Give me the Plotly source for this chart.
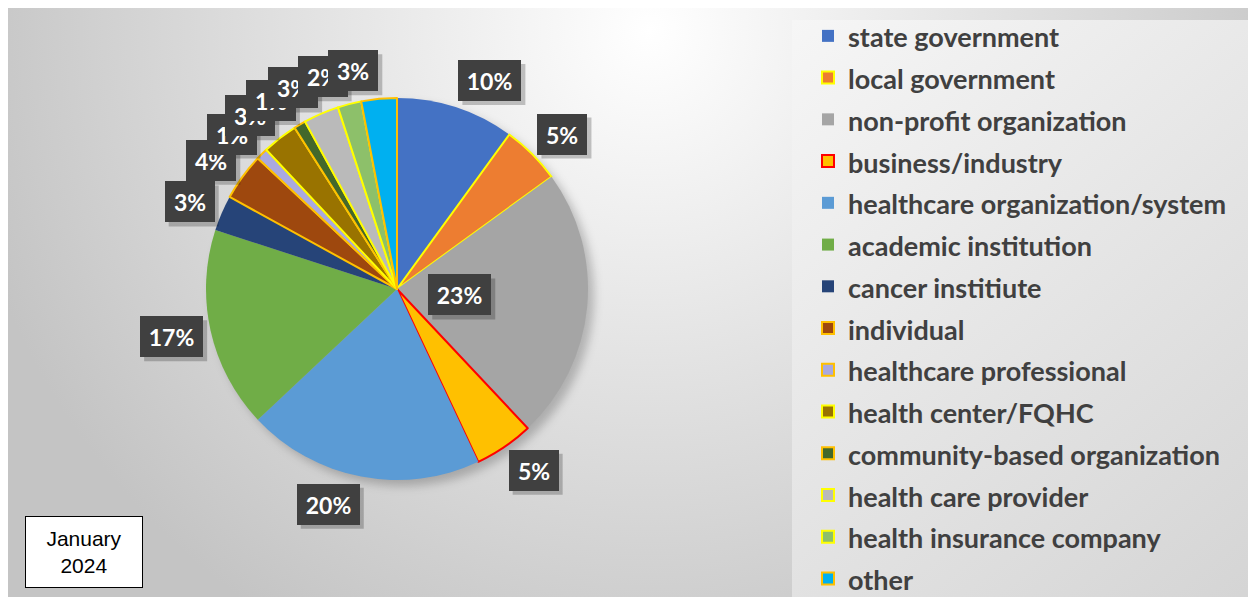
import base64
import math
import plotly.graph_objects as go

# ---------------- data ----------------
categories = [
    "state government", "local government", "non-profit organization",
    "business/industry", "healthcare organization/system", "academic institution",
    "cancer institiute", "individual", "healthcare professional",
    "health center/FQHC", "community-based organization", "health care provider",
    "health insurance company", "other",
]
percent_values = [10, 5, 23, 5, 20, 17, 3, 4, 1, 3, 1, 3, 2, 3]
period_label = ["January", "2024"]

# ---------------- styling ----------------
slice_colors = [
    "#4472C4", "#ED7D31", "#A5A5A5", "#FFC000", "#5B9BD5", "#70AD47", "#264478",
    "#9E480E", "#A9A9DF", "#997300", "#43682B", "#BABABA", "#8DC06A", "#00B0F0",
]
border_colors = [
    "#4472C4", "#FFFF00", "#A5A5A5", "#FF0000", "#5B9BD5", "#70AD47", "#264478",
    "#FFC000", "#FFC000", "#FFFF00", "#FFC000", "#FFFF00", "#FFFF00", "#FFC000",
]
border_widths = [0, 2, 0, 2, 0, 0, 0, 2, 2, 2, 2, 2, 2, 2]
inside_label_index = 2  # the 23% label sits inside the pie

W, H = 1256, 597
CX, CY, R = 389, 281, 191  # pie centre / radius in figure pixels

dom_x = [(CX - R) / W, (CX + R) / W]
dom_y = [(H - CY - R) / H, (H - CY + R) / H]

# ---------------- background (gradient via svg image) ----------------
svg = f'''<svg xmlns="http://www.w3.org/2000/svg" width="{W}" height="{H}" viewBox="0 0 {W} {H}" preserveAspectRatio="none">
<defs>
<radialGradient id="g1" gradientUnits="userSpaceOnUse" cx="642" cy="22" r="700">
<stop offset="0" stop-color="#ffffff"/><stop offset="1" stop-color="#c4c4c4"/>
</radialGradient>
<linearGradient id="g2" gradientUnits="userSpaceOnUse" x1="784" y1="12" x2="1256" y2="597">
<stop offset="0" stop-color="#f6f6f6"/><stop offset="1" stop-color="#d4d4d4"/>
</linearGradient>
<filter id="bl" x="-20%" y="-20%" width="140%" height="140%"><feGaussianBlur stdDeviation="5"/></filter>
</defs>
<rect x="0" y="0" width="{W}" height="{H}" fill="url(#g1)"/>
<circle cx="{CX+6}" cy="{CY+6}" r="{R}" fill="#000000" fill-opacity="0.22" filter="url(#bl)"/>
<rect x="784" y="12" width="{W-784}" height="{H-12}" fill="url(#g2)"/>
</svg>'''
bg_uri = "data:image/svg+xml;base64," + base64.b64encode(svg.encode()).decode()

legend_labels = [f'<span style="font-size:27px"><b>{c}</b></span>' for c in categories]

fig = go.Figure()
fig.add_trace(go.Pie(
    labels=legend_labels,
    values=percent_values,
    sort=False,
    direction="clockwise",
    rotation=0,
    textinfo="none",
    hoverinfo="skip",
    domain=dict(x=dom_x, y=dom_y),
    marker=dict(colors=slice_colors, line=dict(color=border_colors, width=border_widths)),
    showlegend=True,
))

# ---------------- data labels ----------------
annotations = []
shapes = []
total = sum(percent_values)
cum = 0.0
BOX_H = 25
PAD = 8
for i, v in enumerate(percent_values):
    mid = (cum + v / 2) / total * 2 * math.pi
    cum += v
    s, c = math.sin(mid), math.cos(mid)
    txt = f"{v}%"
    bw = 13 * len(txt) + 8
    if i == inside_label_index:
        r = 0.33 * R
        xa, ysh = "center", 0
        x0, x1 = -(bw / 2 + PAD), bw / 2 + PAD
    else:
        r = 1.04 * R
        xa = "left" if s >= 0 else "right"
        ysh = c * 20.5
        if s >= 0:
            x0, x1 = 0, bw + 2 * PAD
        else:
            x0, x1 = -(bw + 2 * PAD), 0
    px = CX + r * s
    py = CY - r * c
    xp, yp = px / W, 1 - py / H
    half = BOX_H / 2 + PAD
    shapes.append(dict(
        type="rect", xref="paper", yref="paper", xsizemode="pixel", ysizemode="pixel",
        xanchor=xp, yanchor=yp, x0=x0 + 4, x1=x1 + 4, y0=ysh - half - 4, y1=ysh + half - 4,
        fillcolor="rgba(0,0,0,0.22)", line=dict(width=0), layer="above",
    ))
    annotations.append(dict(
        x=xp, y=yp, xref="paper", yref="paper", xanchor=xa, yanchor="middle",
        showarrow=False, borderpad=PAD, borderwidth=0, width=bw, height=BOX_H,
        text=f"<b>{txt}</b>", bgcolor="#404040", yshift=ysh, align="center",
        font=dict(family="Lato", size=23, color="#ffffff"),
    ))

annotations.append(dict(
    x=76 / W, y=1 - 544 / H, xref="paper", yref="paper", xanchor="center", yanchor="middle",
    text="<br>".join(period_label), showarrow=False, align="center",
    bgcolor="#ffffff", bordercolor="#000000", borderwidth=1, width=114, height=68,
    font=dict(family="Liberation Sans, Arial", size=21, color="#000000"),
))

fig.update_layout(
    width=W, height=H,
    margin=dict(l=0, r=0, t=0, b=0),
    paper_bgcolor="#ffffff",
    plot_bgcolor="rgba(0,0,0,0)",
    images=[dict(source=bg_uri, xref="paper", yref="paper", x=0, y=1, sizex=1, sizey=1,
                 xanchor="left", yanchor="top", sizing="stretch", layer="below")],
    legend=dict(x=800 / W, y=1 - 9 / H, xanchor="left", yanchor="top",
                bgcolor="rgba(0,0,0,0)", borderwidth=0, maxheight=900,
                font=dict(family="Lato", size=29.8, color="#404040"),
                itemclick=False, itemdoubleclick=False),
    shapes=shapes,
    annotations=annotations,
)

fig.write_html("out.html")
